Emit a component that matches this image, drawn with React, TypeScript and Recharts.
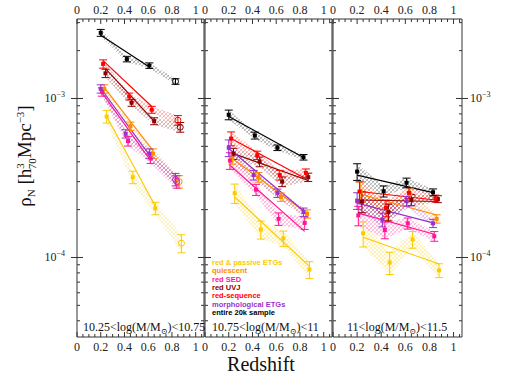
import React from "react";
import { Area, ComposedChart, ErrorBar, Line, Scatter, XAxis, YAxis } from "recharts";

// series, in legend order
const SERIES = [
  "red & passive ETGs",
  "quiescent",
  "red SED",
  "red UVJ",
  "red-sequence",
  "morphological ETGs",
  "entire 20k sample",
];
const COLORS = ["#fbcb00", "#ff8c00", "#ff1493", "#8b0000", "#ff0000", "#9932cc", "#000000"];

// redshift of each point, per series
const REDSHIFTS = [
  [0.25, 0.47, 0.66, 0.88],
  [0.23, 0.45, 0.64, 0.86],
  [0.21, 0.43, 0.62, 0.84],
  [0.24, 0.46, 0.65, 0.87],
  [0.22, 0.44, 0.63, 0.85],
  [0.2, 0.41, 0.61, 0.83],
  [0.2, 0.42, 0.61, 0.83],
];

// 10.25 < log M < 10.75
const RHO_LOW = [
  [7.7e-4, 3.2e-4, 2.04e-4, 1.23e-4],
  [1.15e-3, 6.7e-4, 4.5e-4, 3.0e-4],
  [1.1e-3, 5.4e-4, 4.2e-4, 3.0e-4],
  [1.44e-3, 9.4e-4, 7.2e-4, 6.6e-4],
  [1.65e-3, 1.03e-3, 8.5e-4, 7.3e-4],
  [1.15e-3, 6.0e-4, 4.5e-4, 3.1e-4],
  [2.59e-3, 1.77e-3, 1.61e-3, 1.28e-3],
];
const ERR_LOW = [
  [0.09, 0.09, 0.09, 0.13],
  [0.06, 0.06, 0.07, 0.09],
  [0.06, 0.07, 0.07, 0.09],
  [0.06, 0.05, 0.05, 0.07],
  [0.06, 0.05, 0.05, 0.07],
  [0.06, 0.06, 0.07, 0.09],
  [0.05, 0.04, 0.04, 0.04],
];
const FIT_LOW = [
  [7.7e-4, 2.1e-4],
  [1.17e-3, 4.7e-4],
  [1.09e-3, 4.07e-4],
  [1.54e-3, 7.2e-4],
  [1.73e-3, 8.9e-4],
  [1.16e-3, 4.4e-4],
  [2.5e-3, 1.58e-3],
];

// 10.75 < log M < 11
const RHO_MID = [
  [2.54e-4, 1.5e-4, 1.32e-4, 8.4e-5],
  [4.2e-4, 3.2e-4, 2.4e-4, 1.88e-4],
  [4.07e-4, 2.67e-4, 1.75e-4, 1.65e-4],
  [4.5e-4, 4.0e-4, 3.0e-4, 3.2e-4],
  [5.6e-4, 4.4e-4, 3.3e-4, 3.4e-4],
  [4.9e-4, 3.3e-4, 2.54e-4, 1.93e-4],
  [7.9e-4, 5.85e-4, 4.9e-4, 4.27e-4],
];
const ERR_MID = [
  [0.14, 0.13, 0.11, 0.12],
  [0.08, 0.07, 0.06, 0.06],
  [0.12, 0.08, 0.09, 0.09],
  [0.08, 0.07, 0.07, 0.06],
  [0.1, 0.06, 0.07, 0.06],
  [0.12, 0.07, 0.06, 0.06],
  [0.07, 0.05, 0.04, 0.04],
];
const FIT_MID = [
  [2.4e-4, 8.8e-5],
  [4.2e-4, 1.89e-4],
  [3.8e-4, 1.46e-4],
  [4.5e-4, 3.05e-4],
  [5.6e-4, 3.13e-4],
  [4.85e-4, 1.97e-4],
  [7.7e-4, 4.25e-4],
];

// 11 < log M < 11.5
const RHO_HIGH = [
  [1.42e-4, 9.3e-5, 1.3e-4, 8.3e-5],
  [2.6e-4, 1.95e-4, 2.5e-4, 1.75e-4],
  [1.84e-4, 1.49e-4, 1.64e-4, 1.36e-4],
  [2.25e-4, 1.93e-4, 2.3e-4, 2.33e-4],
  [2.6e-4, 2.05e-4, 2.55e-4, 2.35e-4],
  [2.28e-4, 1.73e-4, 2.26e-4, 1.64e-4],
  [3.47e-4, 2.61e-4, 2.95e-4, 2.57e-4],
];
const ERR_HIGH = [
  [0.18, 0.16, 0.12, 0.1],
  [0.15, 0.12, 0.08, 0.06],
  [0.14, 0.12, 0.08, 0.07],
  [0.15, 0.12, 0.08, 0.05],
  [0.15, 0.12, 0.08, 0.05],
  [0.12, 0.1, 0.07, 0.06],
  [0.12, 0.08, 0.07, 0.05],
];
const FIT_HIGH = [
  [1.34e-4, 9.1e-5],
  [2.5e-4, 1.85e-4],
  [1.9e-4, 1.4e-4],
  [2.3e-4, 2.25e-4],
  [2.6e-4, 2.3e-4],
  [2.2e-4, 1.65e-4],
  [3.3e-4, 2.56e-4],
];

const MASS_BINS = [
  [10.25, 10.75],
  [10.75, 11],
  [11, 11.5],
];

const X_TICKS = [
  0, 0.05, 0.1, 0.15, 0.2, 0.25, 0.3, 0.35, 0.4, 0.45, 0.5, 0.55, 0.6, 0.65, 0.7, 0.75, 0.8, 0.85,
  0.9, 0.95, 1, 1.05,
];
const Y_TICKS = [
  4e-5, 5e-5, 6e-5, 7e-5, 8e-5, 9e-5, 1e-4, 2e-4, 3e-4, 4e-4, 5e-4, 6e-4, 7e-4, 8e-4, 9e-4, 1e-3,
  2e-3, 3e-3,
];
const Y_DOMAIN = [3.162e-5, 3.162e-3];
const X_DOMAIN = [0, 1.07];

const FRAME = "#333";
const SERIF = "'Liberation Serif', 'DejaVu Serif', serif";

function XTick({ x, y, payload, top }: any) {
  const v = payload.value;
  const major = Math.abs(v / 0.2 - Math.round(v / 0.2)) < 1e-6;
  const d = top ? 1 : -1;
  return (
    <g>
      <line x1={x} x2={x} y1={y} y2={y + d * (major ? 5 : 3)} stroke={FRAME} />
      {major && (
        <text x={x} y={top ? y - 5 : y + 14} textAnchor="middle" fontSize={12} fontFamily={SERIF} fill="#222">
          {v === 0 ? "0" : v === 1 ? "1" : v.toFixed(1)}
        </text>
      )}
    </g>
  );
}

function YTick({ x, y, payload, right, label }: any) {
  const lg = Math.log10(payload.value);
  const major = Math.abs(lg - Math.round(lg)) < 1e-6;
  const d = right ? -1 : 1;
  return (
    <g>
      {major ? (
        <line x1={x - 6} x2={x + 6} y1={y} y2={y} stroke={FRAME} />
      ) : (
        <line x1={x} x2={x + d * 3} y1={y} y2={y} stroke={FRAME} />
      )}
      {major && label && (
        <text
          x={right ? x + 8 : x - 12}
          y={y + 4}
          textAnchor={right ? "start" : "end"}
          fontSize={12}
          fontFamily={SERIF}
          fill="#222"
        >
          10
          <tspan dy={-5} fontSize={8}>
            {"\u2212" + Math.abs(Math.round(lg))}
          </tspan>
        </text>
      )}
    </g>
  );
}

function Panel({ id, rho, err, fit, fitEnd, openLast, left, width, margin, yLeft, yRight }: any) {
  const points = SERIES.map((_, s) =>
    REDSHIFTS[s].map((z, k) => ({
      z,
      v: rho[s][k],
      e: rho[s][k] * err[s][k],
      open: openLast && k === 3,
    }))
  );
  const bands = points.map((pts) => pts.map((p) => ({ z: p.z, range: [p.v - p.e, p.v + p.e] })));
  const fits = SERIES.map((_, s) => [
    { z: REDSHIFTS[s][0], f: fit[s][0] },
    { z: REDSHIFTS[s][fitEnd], f: fit[s][1] },
  ]);

  return (
    <div style={{ position: "absolute", left, top: 0 }}>
      <ComposedChart width={width} height={380} margin={margin}>
        <defs>
          {COLORS.map((c, s) => (
            <pattern key={s} id={`hatch-${id}-${s}`} patternUnits="userSpaceOnUse" width={4} height={4}>
              <path d="M0,4 L4,0 M-1,1 L1,-1 M3,5 L5,3" stroke={c} strokeWidth={0.5} />
              <path d="M0,0 L4,4 M-1,3 L1,5 M3,-1 L5,1" stroke={c} strokeWidth={0.35} />
            </pattern>
          ))}
        </defs>
        <XAxis
          xAxisId="b"
          type="number"
          dataKey="z"
          domain={X_DOMAIN}
          allowDataOverflow
          ticks={X_TICKS}
          interval={0}
          height={43}
          tickLine={false}
          tickSize={0}
          tickMargin={0}
          axisLine={{ stroke: FRAME }}
          tick={(p: any) => <XTick {...p} top={false} />}
        />
        <XAxis
          xAxisId="t"
          orientation="top"
          type="number"
          dataKey="z"
          domain={X_DOMAIN}
          allowDataOverflow
          ticks={X_TICKS}
          interval={0}
          height={19}
          tickLine={false}
          tickSize={0}
          tickMargin={0}
          axisLine={{ stroke: FRAME }}
          tick={(p: any) => <XTick {...p} top />}
        />
        <YAxis
          yAxisId="l"
          type="number"
          scale="log"
          domain={Y_DOMAIN}
          allowDataOverflow
          ticks={Y_TICKS}
          interval={0}
          width={yLeft}
          tickLine={false}
          tickSize={0}
          tickMargin={0}
          axisLine={{ stroke: FRAME }}
          tick={(p: any) => <YTick {...p} right={false} label={yLeft > 1} />}
        />
        <YAxis
          yAxisId="r"
          orientation="right"
          type="number"
          scale="log"
          domain={Y_DOMAIN}
          allowDataOverflow
          ticks={Y_TICKS}
          interval={0}
          width={yRight}
          tickLine={false}
          tickSize={0}
          tickMargin={0}
          axisLine={{ stroke: FRAME }}
          tick={(p: any) => <YTick {...p} right label={yRight > 1} />}
        />
        {/* invisible copy of the black fit so the top/right axes have a series */}
        <Line
          xAxisId="t"
          yAxisId="r"
          data={fits[6]}
          dataKey="f"
          stroke="none"
          dot={false}
          legendType="none"
          isAnimationActive={false}
        />
        {bands.map((b, s) => (
          <Area
            key={`band-${s}`}
            xAxisId="b"
            yAxisId="l"
            data={b}
            dataKey="range"
            type="linear"
            stroke="none"
            fill={`url(#hatch-${id}-${s})`}
            fillOpacity={0.6}
            isAnimationActive={false}
          />
        ))}
        {fits.map((f, s) => (
          <Line
            key={`fit-${s}`}
            xAxisId="b"
            yAxisId="l"
            data={f}
            dataKey="f"
            type="linear"
            stroke={COLORS[s]}
            strokeWidth={1.2}
            dot={false}
            isAnimationActive={false}
          />
        ))}
        {points.map((pts, s) => (
          <Scatter
            key={`pts-${s}`}
            xAxisId="b"
            yAxisId="l"
            data={pts}
            dataKey="v"
            fill={COLORS[s]}
            isAnimationActive={false}
            shape={(p: any) =>
              p.payload.open ? (
                <circle cx={p.cx} cy={p.cy} r={3} fill="none" stroke={COLORS[s]} strokeWidth={1} />
              ) : (
                <rect x={p.cx - 2} y={p.cy - 2} width={4} height={4} fill={COLORS[s]} />
              )
            }
          >
            <ErrorBar dataKey="e" direction="y" width={4} stroke={COLORS[s]} strokeWidth={1} />
          </Scatter>
        ))}
      </ComposedChart>
    </div>
  );
}

function MassLabel({ x, bin }: any) {
  return (
    <text x={x} y={331} fontSize={12} fontFamily={SERIF} fill="#111">
      {`${bin[0]}<log(M/M`}
      <tspan dy={3} fontSize={8}>
        {"\u2299"}
      </tspan>
      <tspan dy={-3}>{`)<${bin[1]}`}</tspan>
    </text>
  );
}

export default function App() {
  return (
    <div style={{ position: "absolute", left: 0, top: 0, width: 509, height: 380 }}>
      <Panel
        id="a"
        rho={RHO_LOW}
        err={ERR_LOW}
        fit={FIT_LOW}
        fitEnd={2}
        openLast
        left={0}
        width={215}
        margin={{ top: 0, bottom: 0, left: 0, right: 10 }}
        yLeft={77}
        yRight={1}
      />
      <Panel
        id="b"
        rho={RHO_MID}
        err={ERR_MID}
        fit={FIT_MID}
        fitEnd={3}
        openLast={false}
        left={195}
        width={147}
        margin={{ top: 0, bottom: 0, left: 9, right: 9 }}
        yLeft={1}
        yRight={1}
      />
      <Panel
        id="c"
        rho={RHO_HIGH}
        err={ERR_HIGH}
        fit={FIT_HIGH}
        fitEnd={3}
        openLast={false}
        left={323}
        width={186}
        margin={{ top: 0, bottom: 0, left: 9, right: 0 }}
        yLeft={1}
        yRight={47}
      />
      <svg
        width={509}
        height={380}
        style={{ position: "absolute", left: 0, top: 0, pointerEvents: "none" }}
      >
        <text
          x={31}
          y={156}
          transform="rotate(-90 31 156)"
          textAnchor="middle"
          fontSize={19}
          fontFamily={SERIF}
          fill="#111"
        >
          ρ
          <tspan dy={4} fontSize={11}>
            N
          </tspan>
          <tspan dy={-4}> [h</tspan>
          <tspan dy={-7} fontSize={11}>
            3
          </tspan>
          <tspan dx={-6} dy={12} fontSize={11}>
            70
          </tspan>
          <tspan dy={-5}>Mpc</tspan>
          <tspan dy={-7} fontSize={11}>
            {"\u22123"}
          </tspan>
          <tspan dy={7}>]</tspan>
        </text>
        <text x={261} y={371} textAnchor="middle" fontSize={20} fontFamily={SERIF} fill="#111">
          Redshift
        </text>
        <MassLabel x={83} bin={MASS_BINS[0]} />
        <MassLabel x={212} bin={MASS_BINS[1]} />
        <MassLabel x={347} bin={MASS_BINS[2]} />
        {SERIES.map((name, s) => (
          <text
            key={name}
            x={212}
            y={265 + s * 8.3}
            fontSize={7.5}
            fontWeight="bold"
            fontFamily="'Liberation Sans', sans-serif"
            fill={COLORS[s]}
          >
            {name}
          </text>
        ))}
      </svg>
    </div>
  );
}
